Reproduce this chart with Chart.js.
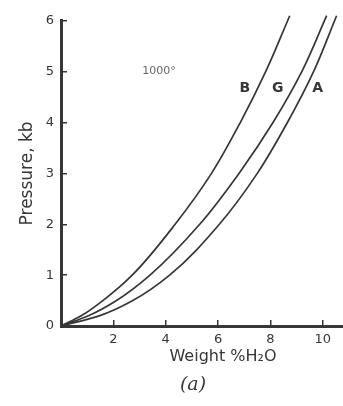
<!DOCTYPE html>
<html>
<head>
<meta charset="utf-8">
<script src="https://cdn.jsdelivr.net/npm/chart.js@4"></script>
<style>
  html, body { margin: 0; padding: 0; background: #fff; }
  #wrap { width: 343px; height: 406px; }
</style>
</head>
<body>
<div id="wrap"><canvas id="graph_ID" width="343" height="406"></canvas></div>
<script>
// pressure (kb) and weight % H2O of the three curves
var pressure = [0, 0.2, 0.5, 1, 2, 3, 4, 5, 6.1];
var weightB  = [0, 0.77, 1.6, 2.72, 4.36, 5.75, 6.85, 7.82, 8.74];
var weightG  = [0, 1.05, 2.12, 3.4, 5.3, 6.8, 8.1, 9.2, 10.15];
var weightA  = [0, 1.46, 2.74, 4.15, 6.05, 7.5, 8.65, 9.65, 10.53];
var curveNames = ['B', 'G', 'A'];
var xTicks = [2, 4, 6, 8, 10];
var yTicks = [0, 1, 2, 3, 4, 5, 6];

var ink = '#363636';

function points(w)
{
  return w.map(function(v, i) { return { x: v, y: pressure[i] }; });
}

function curve(name, w)
{
  return {
    label: name,
    data: points(w),
    borderColor: ink,
    borderWidth: 1.7,
    pointRadius: 0,
    fill: false,
    cubicInterpolationMode: 'monotone',
    clip: false
  };
}

// labels on the plot, placed in data units
var notes = {
  id: 'notes',
  afterDraw: function(chart) {
    var ctx = chart.ctx;
    var x = chart.scales.x, y = chart.scales.y;
    ctx.save();
    ctx.fillStyle = ink;
    ctx.textAlign = 'center';
    ctx.textBaseline = 'middle';

    ctx.font = 'bold 14px "DejaVu Sans"';
    var spots = [[7.02, 4.67], [8.28, 4.67], [9.81, 4.67]];
    curveNames.forEach(function(n, i) {
      ctx.fillText(n, x.getPixelForValue(spots[i][0]), y.getPixelForValue(spots[i][1]));
    });

    ctx.fillStyle = '#666';
    ctx.font = '11px "DejaVu Sans"';
    ctx.fillText('1000°', x.getPixelForValue(3.74), y.getPixelForValue(5.02));

    ctx.fillStyle = ink;
    ctx.font = '16px "DejaVu Sans"';
    ctx.fillText('Weight %H\u2082O', 223, 357);

    ctx.font = 'italic 19px "DejaVu Serif"';
    ctx.fillText('(a)', 193, 385);
    ctx.restore();
  }
};

var tickFont = { family: 'DejaVu Sans', size: 13 };

var graphique = new Chart(document.getElementById('graph_ID').getContext('2d'), {
  type: 'line',
  data: {
    datasets: [curve('B', weightB), curve('G', weightG), curve('A', weightA)]
  },
  options: {
    indexAxis: 'y',
    responsive: false,
    animation: false,
    layout: { padding: { top: 15, right: 0, left: 0, bottom: 0 } },
    plugins: {
      legend: { display: false },
      tooltip: { enabled: false }
    },
    scales: {
      x: {
        type: 'linear',
        position: 'bottom',
        min: 0,
        max: 10.75,
        afterBuildTicks: function(s) { s.ticks = xTicks.map(function(v) { return { value: v }; }); },
        afterFit: function(s) { s.height = 80; },
        ticks: { color: ink, font: tickFont, padding: 12, maxRotation: 0, autoSkip: false },
        grid: { drawOnChartArea: false, tickLength: -6, color: ink, lineWidth: 1.5 },
        border: { display: true, color: ink, width: 3 }
      },
      y: {
        type: 'linear',
        position: 'left',
        min: 0,
        max: 6,
        afterBuildTicks: function(s) { s.ticks = yTicks.map(function(v) { return { value: v }; }); },
        afterFit: function(s) { s.width = 61; },
        ticks: { color: ink, font: tickFont, padding: 13 },
        grid: { drawOnChartArea: false, tickLength: -6, color: ink, lineWidth: 1.5 },
        border: { display: true, color: ink, width: 3 },
        title: {
          display: true,
          text: 'Pressure, kb',
          color: ink,
          font: { family: 'DejaVu Sans', size: 17 },
          padding: { top: 17, bottom: 0 }
        }
      }
    }
  },
  plugins: [notes]
});
</script>
</body>
</html>
